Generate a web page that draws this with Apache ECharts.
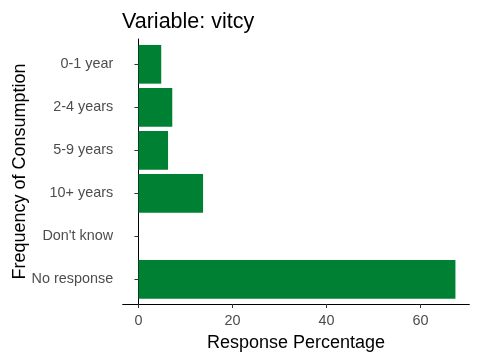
<!DOCTYPE html>
<html>
<head>
<meta charset="utf-8">
<script src="https://cdn.jsdelivr.net/npm/echarts@6/dist/echarts.min.js"></script>
<style>html,body{margin:0;padding:0;background:#fff;}#c{width:480px;height:360px;}</style>
</head>
<body>
<div id="c"></div>
<script>
const categories = ["0-1 year", "2-4 years", "5-9 years", "10+ years", "Don't know", "No response"];
const values = [4.85, 7.2, 6.3, 13.75, 0, 67.45];
const xTicks = [0, 20, 40, 60];

const chart = echarts.init(document.getElementById('c'), null, {renderer: 'canvas'});
const FONT = 'Liberation Sans, Arial, sans-serif';
const xMin = -3.35, xMax = 70.4;
chart.setOption({
  animation: false,
  backgroundColor: '#ffffff',
  title: {
    text: 'Variable: vitcy',
    left: 117, top: 6,
    textStyle: {fontFamily: FONT, fontSize: 21.5, fontWeight: 'normal', color: '#000'}
  },
  grid: [
    {left: 122.7, right: 10.7, top: 42.8, height: 258},
    {left: 122.7, right: 10.7, top: 39, bottom: 56}
  ],
  xAxis: [
    {gridIndex: 0, type: 'value', min: xMin, max: xMax, show: false},
    {gridIndex: 1, type: 'value', min: xMin, max: xMax,
     axisLine: {show: true, lineStyle: {color: '#000', width: 1}},
     axisTick: {show: true, length: 4, lineStyle: {color: '#333'}, customValues: xTicks},
     axisLabel: {customValues: xTicks, color: '#4D4D4D', fontFamily: FONT, fontSize: 14.4, margin: 10},
     splitLine: {show: false},
     name: 'Response Percentage', nameLocation: 'middle', nameGap: 30,
     nameTextStyle: {fontFamily: FONT, fontSize: 18, color: '#000'}
    }
  ],
  yAxis: [
    {gridIndex: 0, type: 'category', data: categories, inverse: true,
     axisLine: {show: false},
     axisTick: {show: true, length: 4, alignWithLabel: true, lineStyle: {color: '#333'}},
     axisLabel: {color: '#4D4D4D', fontFamily: FONT, fontSize: 14.4, margin: 9.5},
     splitLine: {show: false}
    },
    {gridIndex: 1, type: 'value', min: 0, max: 1,
     axisLine: {show: true, lineStyle: {color: '#000', width: 1}},
     axisTick: {show: false}, axisLabel: {show: false}, splitLine: {show: false},
     name: 'Frequency of Consumption', nameLocation: 'middle', nameGap: 94, nameRotate: 90,
     nameTextStyle: {fontFamily: FONT, fontSize: 18, color: '#000'}
    }
  ],
  series: [{
    type: 'bar', xAxisIndex: 0, yAxisIndex: 0,
    data: values, barWidth: '90%',
    itemStyle: {color: '#008033'}
  }]
});
</script>
</body>
</html>
